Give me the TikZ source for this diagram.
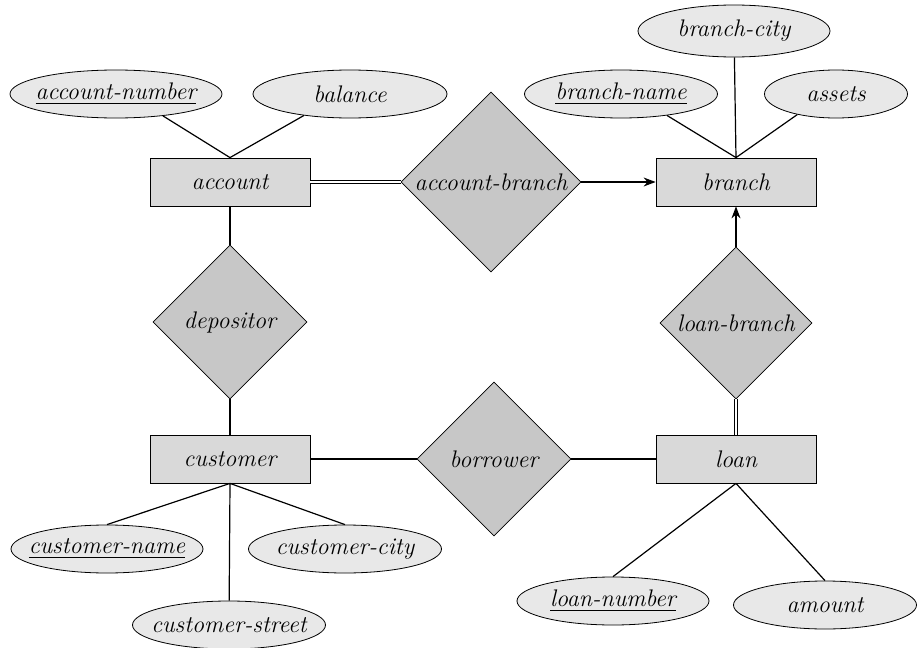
\documentclass[tikz,border=0pt]{standalone}
\usepackage{amsmath}
\usepackage{tikz}
\usetikzlibrary{shapes.geometric,arrows.meta}

\definecolor{entfill}{gray}{0.85}
\definecolor{attfill}{gray}{0.91}
\definecolor{relfill}{gray}{0.78}
\newcommand{\erfont}{\fontsize{12}{14}\selectfont\itshape}
\newcommand{\nw}[1]{\makebox[0pt]{#1}}

\tikzset{
	entity/.style={draw, fill=entfill, rectangle, minimum width=80pt, minimum height=24pt, inner sep=0pt, font=\erfont},
	attrib/.style={draw, fill=attfill, ellipse, minimum height=24pt, inner sep=0pt, font=\erfont},
	relship/.style={draw, fill=relfill, diamond, aspect=1, inner sep=0pt, font=\erfont},
	conn/.style={line width=0.6pt},
	total/.style={double, double distance=1.3pt, line width=0.5pt},
	tofunc/.style={-{Stealth[length=6pt,width=4.5pt]}, line width=0.6pt},
}

\begin{document}
\begin{tikzpicture}[x=0.5pt,y=-0.5pt]
			\useasboundingbox (0,0) rectangle (917,648);
			\node[entity] (account) at (230,182) {account}; % entity sets
			\node[entity] (branch) at (736,182) {branch};
			\node[entity] (customer) at (230,459) {customer};
			\node[entity] (loan) at (736,459) {loan};
			\node[relship, minimum size=90pt] (accbranch) at (491,182) {\nw{account-branch}}; % relationships
			\node[relship, minimum size=77pt] (depositor) at (230,322) {\nw{depositor}};
			\node[relship, minimum size=77pt] (borrower) at (494,459) {\nw{borrower}};
			\node[relship, minimum size=76pt] (loanbranch) at (736,323) {\nw{loan-branch}};
			\node[attrib, minimum width=106pt] (accnum) at (116,94) {\nw{\underline{account-number}}}; % attributes
			\node[attrib, minimum width=97pt] (balance) at (350,94) {\nw{balance}};
			\node[attrib, minimum width=96pt, minimum height=26pt] (bcity) at (734,31) {\nw{branch-city}};
			\node[attrib, minimum width=96.5pt] (bname) at (621,94) {\nw{\underline{branch-name}}};
			\node[attrib, minimum width=71.5pt] (assets) at (836,94) {\nw{assets}};
			\node[attrib, minimum width=96pt] (cname) at (107,549) {\nw{\underline{customer-name}}};
			\node[attrib, minimum width=96.5pt] (ccity) at (345,549) {\nw{customer-city}};
			\node[attrib, minimum width=96.5pt] (cstreet) at (229,625) {\nw{customer-street}};
			\node[attrib, minimum width=96pt] (lnum) at (613,601) {\nw{\underline{loan-number}}};
			\node[attrib, minimum width=91.5pt] (amount) at (825,605) {\nw{amount}};
			\draw[conn] (accnum.-25) -- (account.north) (balance.-155) -- (account.north); % attribute links
			\draw[conn] (bname.-25) -- (branch.north) (bcity) -- (branch.north) (assets.-152) -- (branch.north);
			\draw[conn] (customer.south) -- (cname.north) (customer.south) -- (cstreet) (customer.south) -- (ccity.north);
			\draw[conn] (loan.south) -- (lnum.north) (loan.south) -- (amount.north);
			\draw[total] (account) -- (accbranch); % total participation
			\draw[total] (loan) -- (loanbranch);
			\draw[tofunc] (accbranch) -- (branch); % many-to-one arrows
			\draw[tofunc] (loanbranch) -- (branch);
			\draw[conn] (account) -- (depositor) -- (customer); % plain links
			\draw[conn] (customer) -- (borrower) -- (loan);
		\end{tikzpicture}
\end{document}
